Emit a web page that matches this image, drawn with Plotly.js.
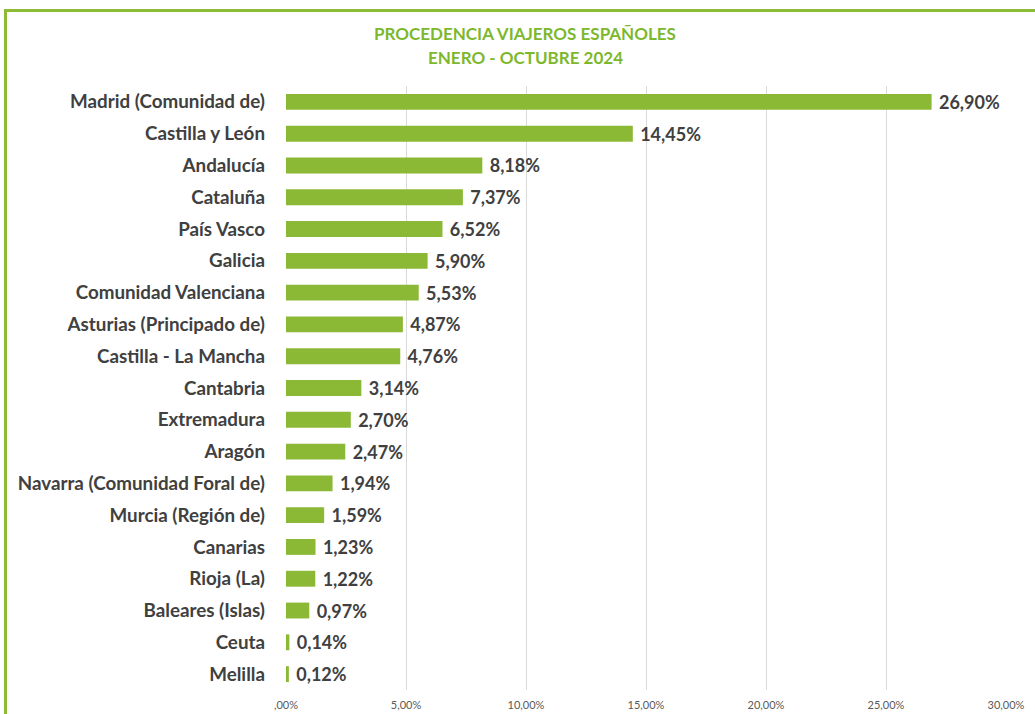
<!DOCTYPE html>
<html><head><meta charset="utf-8">
<script src="https://cdn.plot.ly/plotly-3.0.1.min.js"></script>
<style>
html,body{margin:0;padding:0;background:#fff;overflow:hidden;}
#frame{position:absolute;left:4px;top:9px;width:1200px;height:900px;border:3px solid #8cbb35;box-sizing:border-box;pointer-events:none;z-index:5;}
#chart{position:absolute;left:0;top:0;width:1035px;height:714px;}
</style></head>
<body>
<div id="chart"></div>
<div id="frame"></div>
<script>
const categories = ["Madrid (Comunidad de)","Castilla y León","Andalucía","Cataluña","País Vasco","Galicia","Comunidad Valenciana","Asturias (Principado de)","Castilla - La Mancha","Cantabria","Extremadura","Aragón","Navarra (Comunidad Foral de)","Murcia (Región de)","Canarias","Rioja (La)","Baleares (Islas)","Ceuta","Melilla"];
const values = [26.90,14.45,8.18,7.37,6.52,5.90,5.53,4.87,4.76,3.14,2.70,2.47,1.94,1.59,1.23,1.22,0.97,0.14,0.12];
const tickVals = [0,5,10,15,20,25,30];
const tickLabels = [",00%","5,00%","10,00%","15,00%","20,00%","25,00%","30,00%"];
const titleLines = ["PROCEDENCIA VIAJEROS ESPAÑOLES", "ENERO - OCTUBRE 2024"];
const valueLabels = values.map(v => " " + v.toFixed(2).replace(".", ",") + "%");

const font = "Lato, 'Open Sans', sans-serif";
const trace = {
  type: "bar", orientation: "h",
  x: values, y: categories,
  marker: {color: "#8cb935"},
  text: valueLabels, textposition: "outside", cliponaxis: false, constraintext: "none",
  textfont: {family: font, size: 18, color: "#404040", weight: "bold"},
  hoverinfo: "none"
};
const layout = {
  width: 1035, height: 714,
  margin: {l: 286, r: 29, t: 86, b: 24},
  paper_bgcolor: "#ffffff", plot_bgcolor: "#ffffff",
  showlegend: false, bargap: 0.5,
  annotations: [
    {text: "<b>" + titleLines[0] + "</b>", xref: "paper", yref: "paper", x: (525 - 286) / 720, y: 1 + (86 - 33) / 604, xanchor: "center", yanchor: "middle", showarrow: false, font: {family: font, size: 17, color: "#7db82c"}},
    {text: "<b>" + titleLines[1] + "</b>", xref: "paper", yref: "paper", x: (525 - 286) / 720, y: 1 + (86 - 57) / 604, xanchor: "center", yanchor: "middle", showarrow: false, font: {family: font, size: 17, color: "#7db82c"}}
  ],
  xaxis: {range: [0, 30], tickvals: tickVals, ticktext: tickLabels, showgrid: true, gridcolor: "#d9d9d9", gridwidth: 1, zeroline: false, showline: false, ticks: "", ticklabelstandoff: 7, tickfont: {family: font, size: 11, color: "#595959"}, fixedrange: true},
  yaxis: {type: "category", autorange: "reversed", showgrid: false, zeroline: false, showline: false, ticks: "", ticklabelstandoff: 20, tickfont: {family: font, size: 18.8, color: "#404040", weight: "bold"}, fixedrange: true}
};
Plotly.newPlot("chart", [trace], layout, {displayModeBar: false, staticPlot: true});
</script>
</body></html>
